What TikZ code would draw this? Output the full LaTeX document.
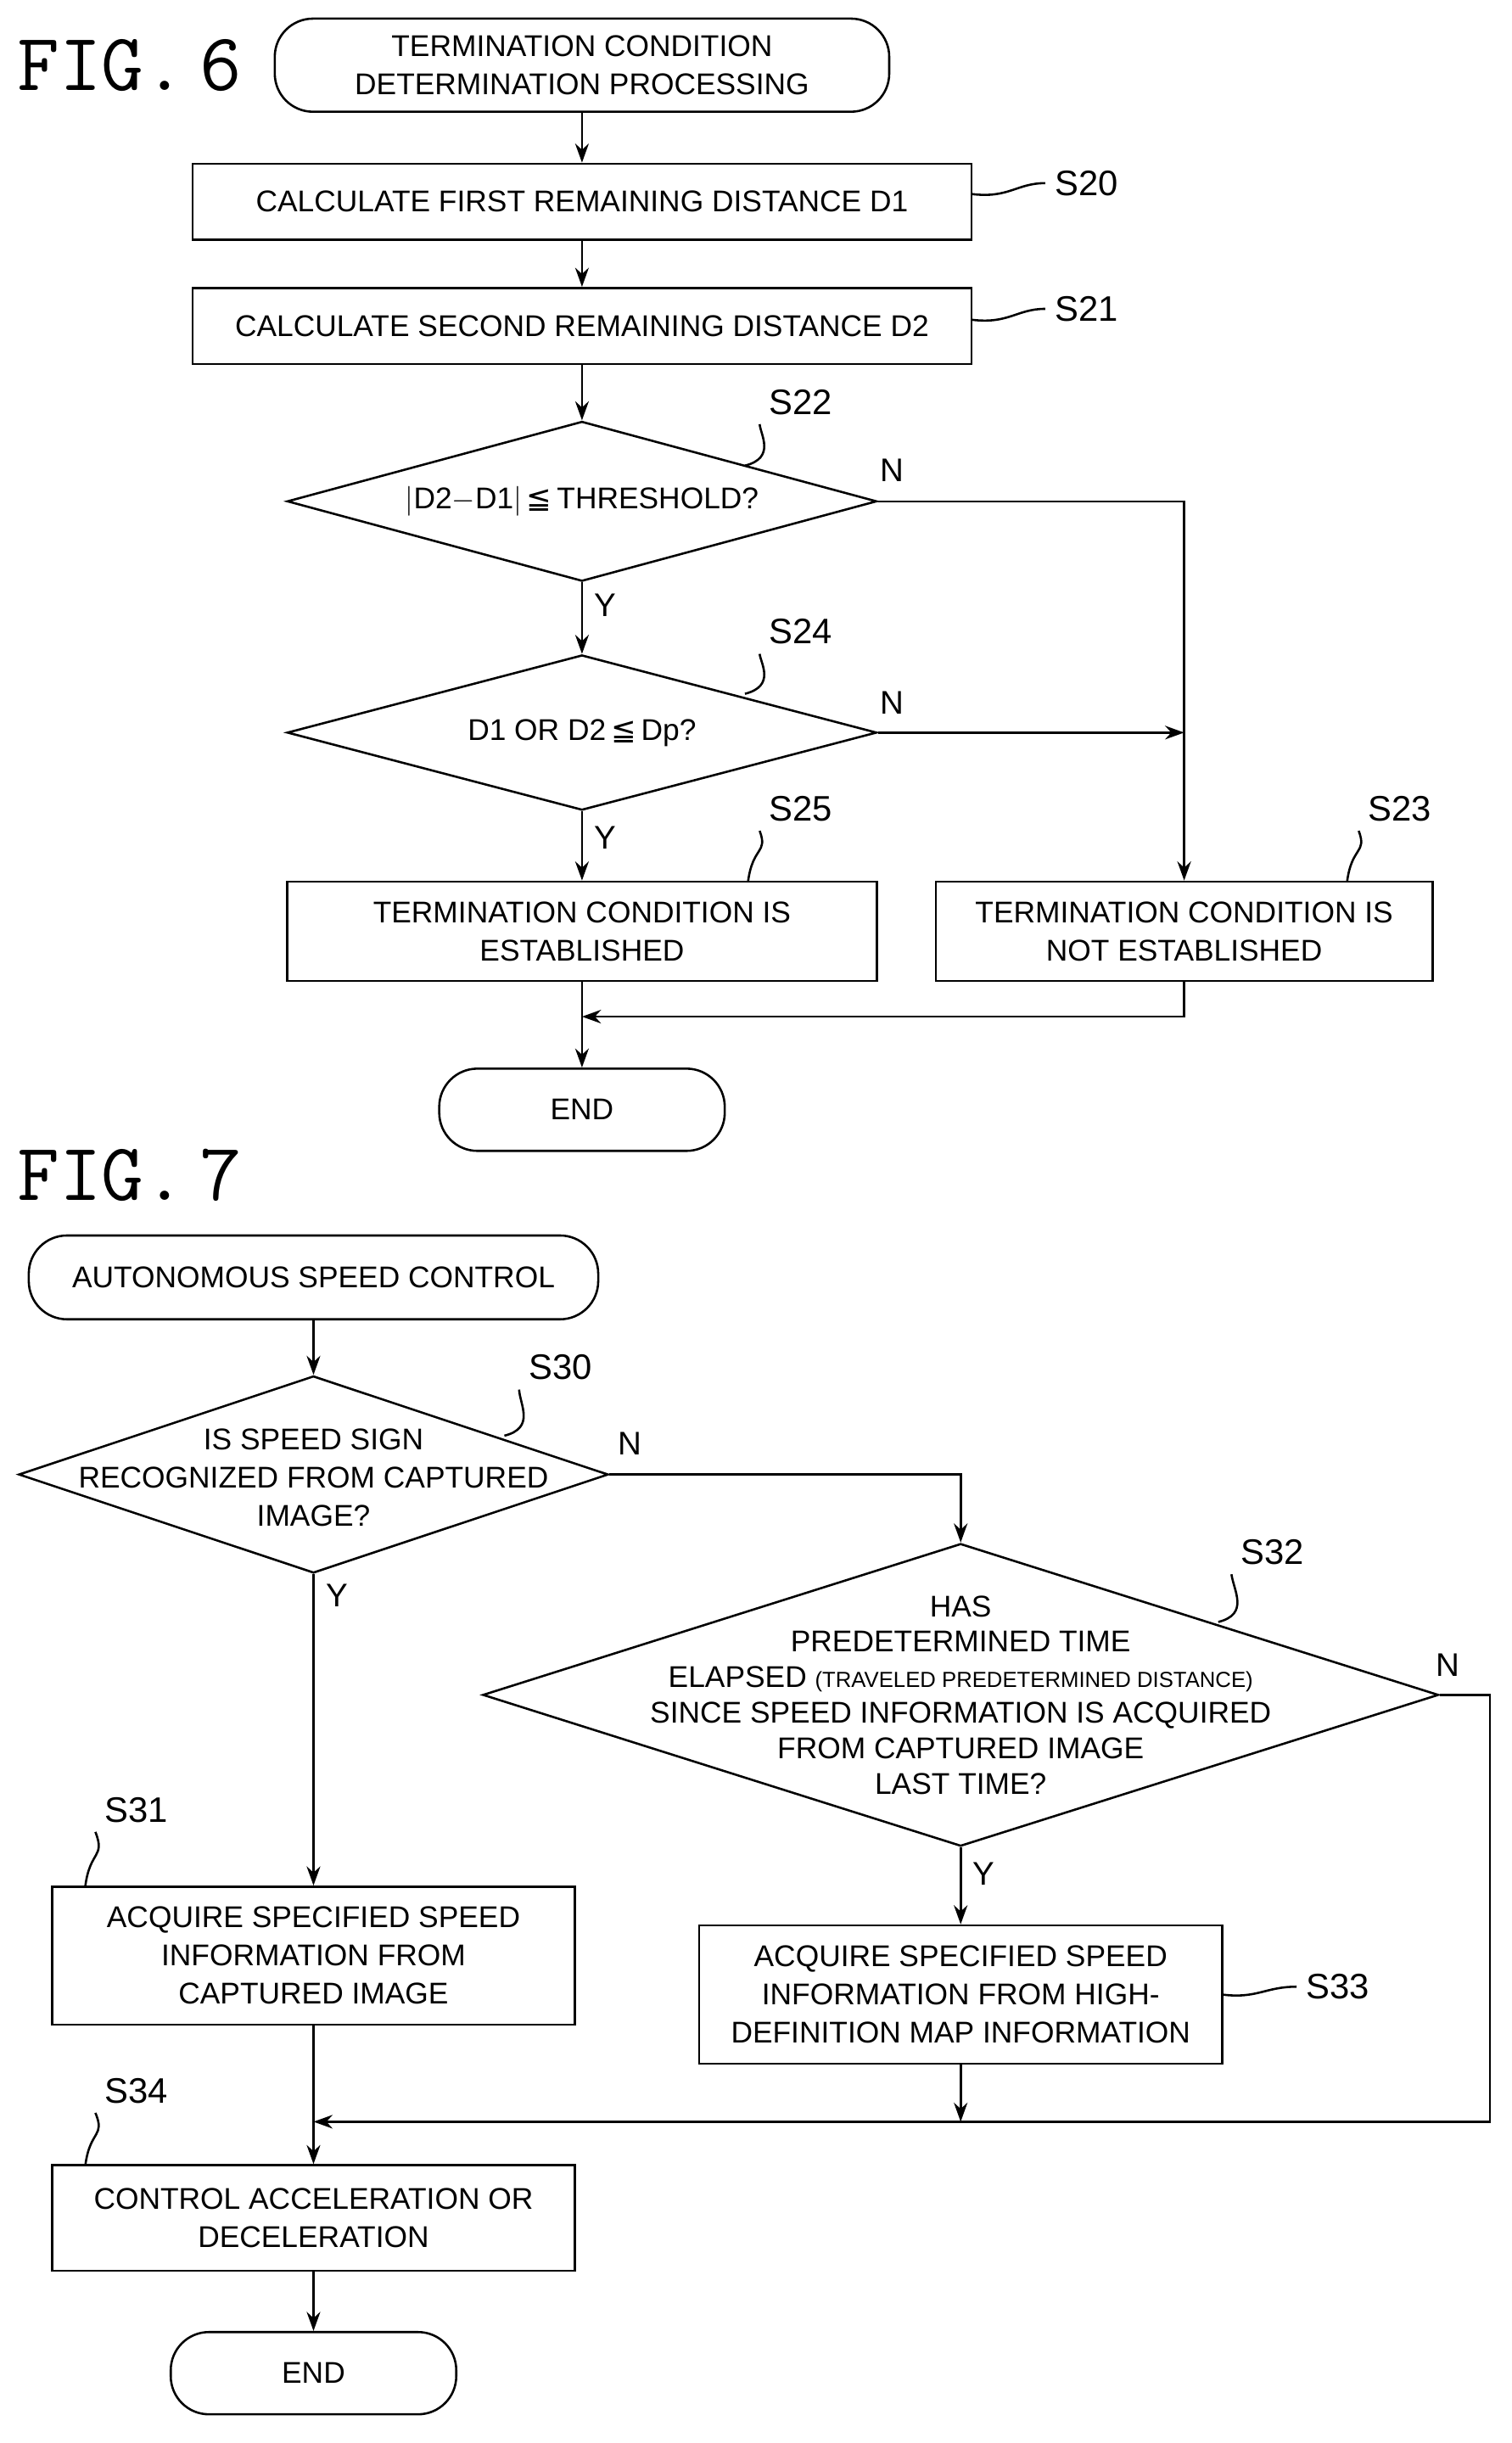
\documentclass[tikz,border=0pt]{standalone}
\usepackage{fontspec}
\setmainfont{Liberation Sans}
\newfontfamily\symfont{DejaVu Sans}
\usetikzlibrary{positioning,calc,arrows.meta,shapes.geometric}
\tikzstyle{block} = [rectangle, draw, thick, align=center, inner sep=0pt]
\tikzstyle{term} = [rectangle, draw, thick, rounded corners=14pt, align=center, inner sep=0pt]
\tikzstyle{decision} = [diamond, draw, thick, inner sep=0pt]
\tikzstyle{line} = [draw, thick, -{Stealth[length=7pt,width=5pt]}]
\tikzstyle{lead} = [draw, thick]
\tikzstyle{steplabel} = [font=\fontsize{13}{13}\selectfont]
\tikzstyle{figlabel} = [font=\fontsize{30}{30}\selectfont\ttfamily, anchor=west]
\newcommand{\leqq}{{\symfont ≦}}
\begin{document}
\begin{tikzpicture}[x=0.02cm, y=-0.02cm, font=\fontsize{11}{14}\selectfont]
  \useasboundingbox (0,0) rectangle (974,1574);
  % Fig. 6 nodes
  \node [figlabel] (fig6) at (5,42) {FIG.\,6};
  \node [term, minimum width=7.92cm, minimum height=1.2cm] (start) at (375,42) {TERMINATION CONDITION\\DETERMINATION PROCESSING};
  \node [block, minimum width=10.04cm, minimum height=0.98cm] (s20) at (375,130) {CALCULATE FIRST REMAINING DISTANCE D1};
  \node [block, minimum width=10.04cm, minimum height=0.98cm] (s21) at (375,210) {CALCULATE SECOND REMAINING DISTANCE D2};
  \node [decision, minimum width=7.6cm, minimum height=2.06cm] (s22) at (375,323) {};
  \node at (s22) {$|$D2$-$D1$|$\,\leqq\,THRESHOLD?};
  \node [decision, minimum width=7.6cm, minimum height=2cm] (s24) at (375,472) {};
  \node at (s24) {D1 OR D2\,\leqq\,Dp?};
  \node [block, minimum width=7.6cm, minimum height=1.28cm] (s25) at (375,600) {TERMINATION CONDITION IS\\ESTABLISHED};
  \node [block, minimum width=6.4cm, minimum height=1.28cm] (s23) at (763,600) {TERMINATION CONDITION IS\\NOT ESTABLISHED};
  \node [term, minimum width=3.68cm, minimum height=1.06cm] (end6) at (375,715) {END};
  \coordinate (j1) at (763,323);
  \coordinate (j2) at (763,472);
  \coordinate (j3) at (763,655);
  \coordinate (j4) at (375,655);
  % Fig. 6 edges
  \path [line] (start) -- (s20);
  \path [line] (s20) -- (s21);
  \path [line] (s21) -- (s22);
  \path [line] (s22) -- (s24);
  \path [line] (s24) -- (s25);
  \path [line] (s25) -- (end6);
  \path [line] (s22.east) -- (j1) -- (s23.north);
  \path [line] (s24.east) -- (j2);
  \path [line] (s23.south) -- (j3) -- (j4);
  \node at (575,303) {\large N};
  \node at (390,390) {\large Y};
  \node at (575,453) {\large N};
  \node at (390,540) {\large Y};
  % Fig. 6 step labels
  \node [steplabel] (l20) at (700,118) {S20};
  \node [steplabel] (l21) at (700,199) {S21};
  \node [steplabel] (l22) at (516,259) {S22};
  \node [steplabel] (l24) at (516,407) {S24};
  \node [steplabel] (l25) at (516,521) {S25};
  \node [steplabel] (l23) at (902,521) {S23};
  \path [lead] (626,125) .. controls (650,128) and (655,118) .. (l20.west);
  \path [lead] (626,206) .. controls (650,209) and (655,199) .. (l21.west);
  \path [lead] (480,300) .. controls (500,295) and (490,280) .. (l22.south west);
  \path [lead] (480,447) .. controls (500,442) and (490,427) .. (l24.south west);
  \path [lead] (482,568) .. controls (485,545) and (495,550) .. (l25.south west);
  \path [lead] (868,568) .. controls (871,545) and (881,550) .. (l23.south west);
  % Fig. 7 nodes
  \node [figlabel] (fig7) at (5,757) {FIG.\,7};
  \node [term, minimum width=7.34cm, minimum height=1.08cm] (start7) at (202,823) {AUTONOMOUS SPEED CONTROL};
  \node [decision, minimum width=7.6cm, minimum height=2.54cm] (s30) at (202,950) {};
  \node [align=center] at (202,952) {IS SPEED SIGN\\RECOGNIZED FROM CAPTURED\\IMAGE?};
  \node [decision, minimum width=12.32cm, minimum height=3.9cm] (s32) at (619,1092) {};
  \node [align=center, font=\fontsize{11}{13}\selectfont] at (619,1092) {HAS\\PREDETERMINED TIME\\ELAPSED {\fontsize{8}{13}\selectfont(TRAVELED PREDETERMINED DISTANCE)}\\SINCE SPEED INFORMATION IS ACQUIRED\\FROM CAPTURED IMAGE\\LAST TIME?};
  \node [block, minimum width=6.74cm, minimum height=1.78cm] (s31) at (202,1260) {ACQUIRE SPECIFIED SPEED\\INFORMATION FROM\\CAPTURED IMAGE};
  \node [block, minimum width=6.74cm, minimum height=1.78cm] (s33) at (619,1285) {ACQUIRE SPECIFIED SPEED\\INFORMATION FROM HIGH-\\DEFINITION MAP INFORMATION};
  \node [block, minimum width=6.74cm, minimum height=1.36cm] (s34) at (202,1429) {CONTROL ACCELERATION OR\\DECELERATION};
  \node [term, minimum width=3.68cm, minimum height=1.06cm] (end7) at (202,1529) {END};
  \coordinate (k1) at (619,950);
  \coordinate (k2) at (960,1092);
  \coordinate (k3) at (960,1367);
  \coordinate (k4) at (202,1367);
  \coordinate (k5) at (619,1367);
  % Fig. 7 edges
  \path [line] (start7) -- (s30);
  \path [line] (s30) -- (s31);
  \path [line] (s30.east) -- (k1) -- (s32.north);
  \path [line] (s32) -- (s33);
  \path [line] (s33) -- (k5);
  \path [line] (s32.east) -- (k2) -- (k3) -- (k4);
  \path [line] (s31) -- (s34);
  \path [line] (s34) -- (end7);
  \node at (406,930) {\large N};
  \node at (217,1028) {\large Y};
  \node at (933,1073) {\large N};
  \node at (634,1207) {\large Y};
  % Fig. 7 step labels
  \node [steplabel] (l30) at (361,881) {S30};
  \node [steplabel] (l32) at (820,1000) {S32};
  \node [steplabel] (l31) at (88,1166) {S31};
  \node [steplabel] (l33) at (862,1280) {S33};
  \node [steplabel] (l34) at (88,1347) {S34};
  \path [lead] (325,925) .. controls (345,920) and (335,905) .. (l30.south west);
  \path [lead] (785,1045) .. controls (805,1040) and (795,1025) .. (l32.south west);
  \path [lead] (55,1215) .. controls (58,1192) and (68,1197) .. (l31.south west);
  \path [lead] (787,1285) .. controls (810,1288) and (815,1280) .. (l33.west);
  \path [lead] (55,1395) .. controls (58,1372) and (68,1377) .. (l34.south west);
\end{tikzpicture}
\end{document}
